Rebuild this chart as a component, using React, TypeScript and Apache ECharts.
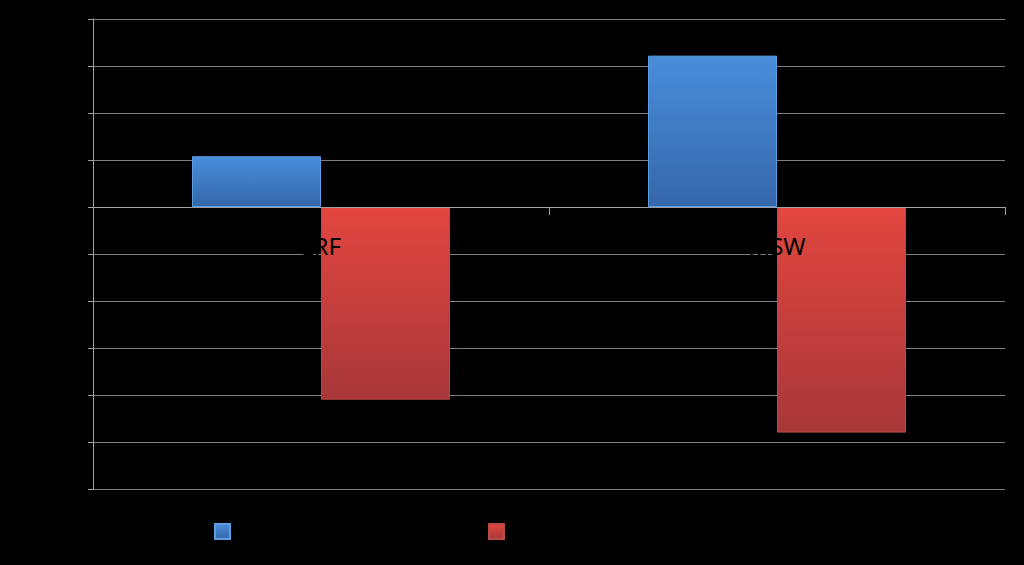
import React, { useEffect, useRef } from "react";
import * as echarts from "echarts";

const categories = ["LRF", "MSW"];
const seriesNames = ["Series 1", "Series 2"];
const blueValues = [1.08, 3.22];
const redValues = [-4.1, -4.8];
const yMin = -6;
const yMax = 4;
const yInterval = 1;

export default function App() {
  const ref = useRef<HTMLDivElement>(null);
  useEffect(() => {
    const chart = echarts.init(ref.current!, null, { renderer: "svg" });
    const blueGrad = new echarts.graphic.LinearGradient(0, 0, 0, 1, [
      { offset: 0, color: "#4a8ddb" },
      { offset: 1, color: "#3467a9" },
    ]);
    const redGrad = new echarts.graphic.LinearGradient(0, 0, 0, 1, [
      { offset: 0, color: "#e2463f" },
      { offset: 1, color: "#a8373a" },
    ]);
    const legendBase = {
      top: 518,
      itemWidth: 15,
      itemHeight: 15,
      icon: "rect",
      textStyle: { color: "#000000", fontSize: 14 },
    };
    chart.setOption({
      animation: false,
      backgroundColor: "#000000",
      textStyle: { fontFamily: "Noto Sans" },
      grid: { left: 93, right: 19, top: 19, bottom: 76 },
      legend: [
        { ...legendBase, left: 209, data: [seriesNames[0]] },
        { ...legendBase, left: 483, data: [seriesNames[1]] },
      ],
      xAxis: {
        type: "category",
        data: categories,
        z: 10,
        axisLine: { onZero: true, lineStyle: { color: "#a0a0a0", width: 1 } },
        axisTick: { show: true, length: 8, lineStyle: { color: "#a0a0a0" } },
        axisLabel: { color: "#000000", fontSize: 24, margin: -256 },
      },
      yAxis: {
        type: "value",
        min: yMin,
        max: yMax,
        interval: yInterval,
        axisLine: { show: true, lineStyle: { color: "#a0a0a0", width: 1 } },
        axisTick: { show: true, length: 5, lineStyle: { color: "#a0a0a0" } },
        axisLabel: { color: "#000000", fontSize: 14 },
        splitLine: { lineStyle: { color: "#7f7f7f", width: 1 } },
      },
      series: [
        {
          name: seriesNames[0],
          type: "bar",
          data: blueValues,
          barWidth: 129,
          barGap: "0%",
          itemStyle: { color: blueGrad, borderColor: "#5c9ee6", borderWidth: 1 },
        },
        {
          name: seriesNames[1],
          type: "bar",
          data: redValues,
          barWidth: 129,
          barGap: "0%",
          itemStyle: { color: redGrad, borderColor: "#b84a46", borderWidth: 1 },
        },
      ],
    });
    return () => chart.dispose();
  }, []);
  return <div ref={ref} style={{ width: 1024, height: 565, position: "absolute", left: 0, top: 0 }} />;
}
